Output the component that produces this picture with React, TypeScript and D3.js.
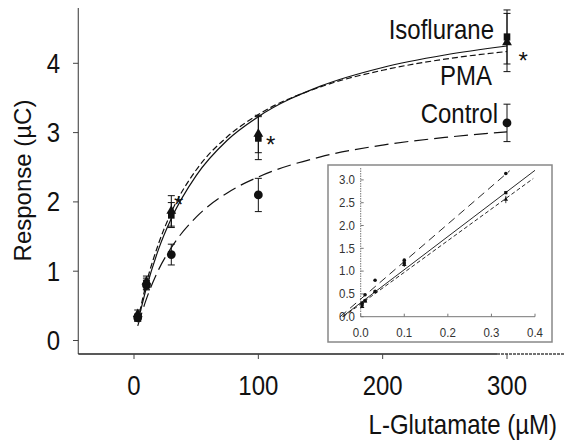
import * as d3 from 'd3';

// main plot: L-glutamate concentrations (µM) and responses (µC)
const glutamate = [3, 10, 30, 100, 300];
const controlMean = [0.33, 0.8, 1.24, 2.1, 3.14];
const controlErr = [0.05, 0.07, 0.15, 0.24, 0.27];
const isoMean = [0.33, 0.82, 1.81, 2.92, 4.38];
const isoErr = [0.05, 0.08, 0.18, 0.31, 0.39];
const pmaMean = [0.38, 0.85, 1.87, 2.98, 4.3];
const pmaErr = [0.06, 0.08, 0.22, 0.27, 0.42];

// fitted curves
const fitX = [3, 10, 20, 30, 50, 75, 100, 150, 200, 250, 300];
const controlFit = [0.21, 0.6, 1.03, 1.34, 1.78, 2.13, 2.36, 2.65, 2.82, 2.93, 3.01];
const isoFit = [0.26, 0.76, 1.33, 1.76, 2.38, 2.89, 3.23, 3.67, 3.94, 4.12, 4.25];
const pmaFit = [0.28, 0.83, 1.41, 1.85, 2.46, 2.94, 3.26, 3.66, 3.9, 4.06, 4.17];

const xTicks = [0, 100, 200, 300];
const yTicks = [0, 1, 2, 3, 4];

// asterisks (centre, data units)
const starX = [36, 110, 313];
const starY = [2.03, 2.89, 4.1];

// inset: double reciprocal plot
const insetX = [0.0033, 0.01, 0.033, 0.1, 0.333];
const insetControl = [0.3, 0.48, 0.8, 1.24, 3.14];
const insetIso = [0.27, 0.35, 0.55, 1.18, 2.72];
const insetPma = [0.22, 0.34, 0.55, 1.14, 2.57];
const insetPmaErr = [0.03, 0.02, 0.03, 0.05, 0.08];
const insetControlLine = [[-0.047, 0], [0.342, 3.2]];
const insetIsoLine = [[-0.042, 0], [0.4, 3.21]];
const insetPmaLine = [[-0.04, 0], [0.396, 3.03]];
const insetXTicks = [0, 0.1, 0.2, 0.3, 0.4];
const insetYTicks = [0, 0.5, 1, 1.5, 2, 2.5, 3];

const FONT = '"Liberation Sans", Arial, Helvetica, sans-serif';
const INK = '#111';

function Label({ x, y, anchor = 'middle', size = 24, children, fill = INK }: any) {
  return (
    <text
      transform={`translate(${x},${y}) scale(1,1.12)`}
      textAnchor={anchor}
      dominantBaseline="central"
      fontSize={size}
      fontFamily={FONT}
      fill={fill}
    >
      {children}
    </text>
  );
}

export default function App() {
  const x = d3.scaleLinear().domain([0, 300]).range([134, 507]);
  const y = d3.scaleLinear().domain([0, 4]).range([340.5, 63.3]);

  const ix = d3.scaleLinear().domain([0, 0.4]).range([360.7, 535]);
  const iy = d3.scaleLinear().domain([0, 3]).range([316.7, 179.9]);

  const fitLine = d3
    .line<number>()
    .x((_, i) => x(fitX[i]))
    .y((d) => y(d))
    .curve(d3.curveMonotoneX);

  const seg = d3
    .line<number[]>()
    .x((d) => ix(d[0]))
    .y((d) => iy(d[1]));

  const tri = d3.symbol(d3.symbolTriangle).size(42)();
  const triSmall = d3.symbol(d3.symbolTriangle).size(9)();

  const errorBars = (means: number[], errs: number[], key: string) =>
    glutamate.map((g, i) => {
      const cx = x(g);
      const top = y(means[i] + errs[i]);
      const bot = y(means[i] - errs[i]);
      return (
        <g key={key + i} stroke={INK} strokeWidth={1}>
          <line x1={cx} x2={cx} y1={top} y2={bot} />
          <line x1={cx - 3.5} x2={cx + 3.5} y1={top} y2={top} />
          <line x1={cx - 3.5} x2={cx + 3.5} y1={bot} y2={bot} />
        </g>
      );
    });

  return (
    <svg
      width={565}
      height={443}
      style={{ position: 'absolute', left: 0, top: 0, background: '#fff' }}
    >
      <rect width={565} height={443} fill="#fff" />

      {/* axes */}
      <line x1={78.3} x2={78.3} y1={8} y2={354} stroke="#555" strokeWidth={1.2} />
      <line x1={78.3} x2={497} y1={354} y2={354} stroke="#222" strokeWidth={1.3} />
      <line
        x1={497}
        x2={565}
        y1={354}
        y2={354}
        stroke="#444"
        strokeWidth={1.3}
        strokeDasharray="3,1"
      />
      {yTicks.map((t) => (
        <g key={'yt' + t}>
          <line x1={73} x2={78.3} y1={y(t)} y2={y(t)} stroke="#444" />
          <Label x={60} y={y(t)} anchor="end">
            {t}
          </Label>
        </g>
      ))}
      {xTicks.map((t) => (
        <g key={'xt' + t}>
          <line x1={x(t)} x2={x(t)} y1={354} y2={359} stroke="#444" />
          <Label x={x(t)} y={386}>
            {t}
          </Label>
        </g>
      ))}

      <text
        transform="translate(22.5,180.5) rotate(-90)"
        textAnchor="middle"
        dominantBaseline="central"
        fontSize={24}
        fontFamily={FONT}
        fill={INK}
      >
        Response (µC)
      </text>
      <Label x={557} y={425} anchor="end">
        L-Glutamate (µM)
      </Label>

      {/* inset */}
      <rect x={328} y={165} width={224} height={177} fill="#fff" stroke="#888" strokeWidth={1.5} />
      <line
        x1={ix(0)}
        x2={ix(0)}
        y1={168}
        y2={iy(0)}
        stroke="#777"
        strokeWidth={1}
        strokeDasharray="1.5,1"
      />
      <line x1={ix(0)} x2={ix(0.4)} y1={iy(0)} y2={iy(0)} stroke="#777" strokeWidth={1} />
      {insetYTicks.map((t) => (
        <g key={'iyt' + t}>
          <line x1={ix(0)} x2={ix(0) + 3} y1={iy(t)} y2={iy(t)} stroke="#777" />
          <Label x={355} y={iy(t)} anchor="end" size={11.5} fill="#333">
            {t.toFixed(1)}
          </Label>
        </g>
      ))}
      {insetXTicks.map((t) => (
        <g key={'ixt' + t}>
          <line x1={ix(t)} x2={ix(t)} y1={iy(0)} y2={iy(0) - 3} stroke="#777" />
          <Label x={ix(t)} y={333} size={11.5} fill="#333">
            {t.toFixed(1)}
          </Label>
        </g>
      ))}
      <g fill="none" stroke={INK} strokeWidth={0.9}>
        <path d={seg(insetControlLine) || ''} strokeDasharray="8,5" />
        <path d={seg(insetIsoLine) || ''} />
        <path d={seg(insetPmaLine) || ''} strokeDasharray="4,2.5" />
      </g>
      {insetX.map((v, i) => (
        <g key={'ip' + i} fill={INK}>
          <line
            x1={ix(v)}
            x2={ix(v)}
            y1={iy(insetPma[i] + insetPmaErr[i])}
            y2={iy(insetPma[i] - insetPmaErr[i])}
            stroke={INK}
            strokeWidth={0.8}
          />
          <circle cx={ix(v)} cy={iy(insetControl[i])} r={1.8} />
          <rect x={ix(v) - 1.6} y={iy(insetIso[i]) - 1.6} width={3.2} height={3.2} />
          <path d={triSmall} transform={`translate(${ix(v)},${iy(insetPma[i])})`} />
        </g>
      ))}

      {/* error bars */}
      {errorBars(controlMean, controlErr, 'ce')}
      {errorBars(isoMean, isoErr, 'ie')}
      {errorBars(pmaMean, pmaErr, 'pe')}

      {/* fitted curves */}
      <g fill="none" stroke={INK} strokeWidth={1.2}>
        <path d={fitLine(controlFit) || ''} strokeDasharray="14,6" />
        <path d={fitLine(isoFit) || ''} />
        <path d={fitLine(pmaFit) || ''} strokeDasharray="6,3" />
      </g>

      {/* markers */}
      {glutamate.map((g, i) => (
        <g key={'m' + i} fill={INK}>
          <circle cx={x(g)} cy={y(controlMean[i])} r={4.4} />
          <rect x={x(g) - 3.3} y={y(isoMean[i]) - 3.6} width={6.6} height={7.2} />
          <path d={tri} transform={`translate(${x(g)},${y(pmaMean[i])})`} />
        </g>
      ))}

      {/* annotations */}
      {starX.map((s, i) => (
        <text
          key={'st' + i}
          x={x(s)}
          y={y(starY[i]) + 13}
          textAnchor="middle"
          fontSize={24}
          fontFamily={FONT}
          fill={INK}
        >
          *
        </text>
      ))}
      <Label x={494} y={30} anchor="end">
        Isoflurane
      </Label>
      <Label x={492} y={76} anchor="end">
        PMA
      </Label>
      <Label x={498} y={114} anchor="end">
        Control
      </Label>
    </svg>
  );
}
